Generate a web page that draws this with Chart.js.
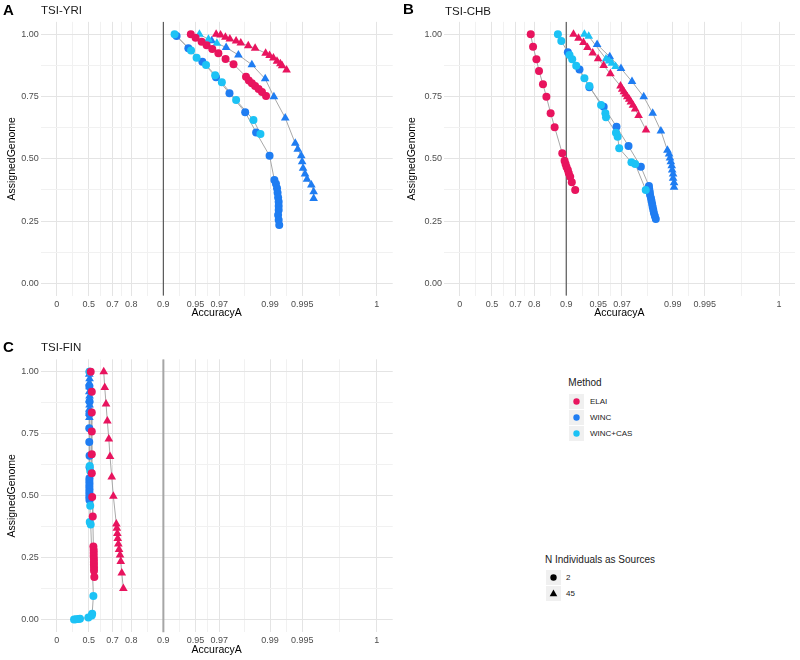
<!DOCTYPE html>
<html>
<head>
<meta charset="utf-8">
<script src="https://cdn.jsdelivr.net/npm/chart.js@4.4.1/dist/chart.umd.min.js"></script>
<style>
  body { margin: 0; width: 800px; height: 660px; background: #fff; position: relative; overflow: hidden;
         font-family: "Liberation Sans", Arial, Helvetica, sans-serif; }
  canvas { position: absolute; }
  .txt { position: absolute; white-space: nowrap; color: #1a1a1a; }
  .key { position: absolute; width: 15px; height: 15px; background: #f0f0f0; }
</style>
</head>
<body>
<canvas id="chartA" width="400" height="320" style="left:0;top:0"></canvas>
<canvas id="chartB" width="400" height="320" style="left:400px;top:0"></canvas>
<canvas id="chartC" width="400" height="340" style="left:0;top:320px"></canvas>
<div id="labels"></div>
<script>
const methods = ["ELAI", "WINC", "WINC+CAS"];
const methodColors = ["#E8145E", "#1F7DF2", "#1CC2F5"];
const sourceCounts = ["2", "45"];
const accuracyTicks = [0, 0.5, 0.7, 0.8, 0.9, 0.95, 0.97, 0.99, 0.995, 1];
const genomeTicks = [0, 0.25, 0.5, 0.75, 1];
const cutoff = 0.9;

// [AccuracyA, AssignedGenome]
// TSI-YRI
const yriElai2 = [[0.9447,1.000],[0.9501,0.986],[0.9562,0.970],[0.9607,0.956],[0.9652,0.941],[0.9695,0.924],[0.9739,0.901],[0.9780,0.880],[0.9832,0.830],[0.9842,0.814],[0.9852,0.803],[0.9862,0.792],[0.9872,0.780],[0.9881,0.768],[0.9891,0.752]];
const yriElai45 = [[0.9680,1.000],[0.9709,0.997],[0.9738,0.988],[0.9762,0.981],[0.9792,0.973],[0.9812,0.965],[0.9840,0.954],[0.9862,0.944],[0.9890,0.924],[0.9899,0.915],[0.9907,0.905],[0.9914,0.892],[0.9920,0.882],[0.9923,0.874],[0.9930,0.857]];
const yriWinc2 = [[0.9248,0.993],[0.9417,0.944],[0.9569,0.890],[0.9679,0.828],[0.9760,0.763],[0.9829,0.687],[0.9865,0.606],[0.9899,0.512],[0.9909,0.415],[0.9912,0.400],[0.9914,0.382],[0.9915,0.364],[0.9916,0.345],[0.9917,0.328],[0.9917,0.310],[0.9917,0.294],[0.9916,0.274],[0.9917,0.254],[0.9918,0.234]];
const yriWinc45 = [[0.9648,0.974],[0.9742,0.947],[0.9802,0.917],[0.9852,0.878],[0.9889,0.821],[0.9908,0.749],[0.9928,0.664],[0.9942,0.562],[0.9945,0.538],[0.9949,0.512],[0.9950,0.488],[0.9951,0.462],[0.9953,0.439],[0.9955,0.418],[0.9959,0.395],[0.9961,0.368],[0.9961,0.341]];
const yriWincCas2 = [[0.9215,1.000],[0.9450,0.935],[0.9512,0.906],[0.9602,0.877],[0.9673,0.836],[0.9717,0.807],[0.9792,0.736],[0.9857,0.656],[0.9877,0.600]];
const yriWincCas45 = [[0.9541,1.000],[0.9622,0.980],[0.9685,0.964]];

// TSI-CHB
const chbElai2 = [[0.7843,1.000],[0.7949,0.950],[0.8093,0.900],[0.8196,0.853],[0.8345,0.799],[0.8463,0.749],[0.8598,0.683],[0.8714,0.627],[0.8910,0.522],[0.8963,0.492],[0.8985,0.479],[0.9006,0.467],[0.9034,0.455],[0.9054,0.442],[0.9082,0.428],[0.9113,0.406],[0.9176,0.375]];
const chbElai45 = [[0.9145,1.000],[0.9233,0.984],[0.9311,0.967],[0.9368,0.947],[0.9436,0.925],[0.9498,0.902],[0.9555,0.875],[0.9615,0.842],[0.9691,0.792],[0.9702,0.779],[0.9713,0.769],[0.9723,0.759],[0.9733,0.749],[0.9744,0.739],[0.9753,0.728],[0.9764,0.715],[0.9775,0.700],[0.9791,0.674],[0.9822,0.616]];
const chbWinc2 = [[0.9034,0.928],[0.9249,0.859],[0.9394,0.787],[0.9555,0.709],[0.9663,0.629],[0.9740,0.551],[0.9801,0.468],[0.9833,0.391],[0.9834,0.379],[0.9836,0.367],[0.9837,0.355],[0.9840,0.343],[0.9842,0.331],[0.9844,0.318],[0.9846,0.306],[0.9848,0.294],[0.9850,0.282],[0.9853,0.270],[0.9856,0.258]];
const chbWinc45 = [[0.9487,0.959],[0.9610,0.910],[0.9694,0.863],[0.9759,0.810],[0.9813,0.749],[0.9846,0.683],[0.9871,0.612],[0.9888,0.534],[0.9892,0.519],[0.9894,0.503],[0.9896,0.488],[0.9898,0.472],[0.9899,0.455],[0.9901,0.439],[0.9901,0.422],[0.9903,0.404],[0.9903,0.386]];
const chbWincCas2 = [[0.8802,1.000],[0.8887,0.973],[0.9068,0.917],[0.9121,0.900],[0.9194,0.874],[0.9325,0.823],[0.9394,0.792],[0.9529,0.716],[0.9571,0.683],[0.9577,0.667],[0.9659,0.605],[0.9671,0.589],[0.9682,0.542],[0.9756,0.486],[0.9775,0.479],[0.9821,0.375]];
const chbWincCas45 = [[0.9325,1.000],[0.9385,0.992],[0.9577,0.901],[0.9604,0.893],[0.9628,0.884],[0.9656,0.871]];

// TSI-FIN
const finElai2 = [[0.520,1.000],[0.531,0.919],[0.531,0.836],[0.531,0.759],[0.531,0.668],[0.531,0.591],[0.535,0.495],[0.541,0.417],[0.547,0.296],[0.550,0.282],[0.550,0.270],[0.550,0.258],[0.552,0.246],[0.552,0.234],[0.552,0.222],[0.553,0.210],[0.553,0.198],[0.556,0.173]];
const finElai45 = [[0.6378,1.000],[0.6455,0.936],[0.6553,0.870],[0.6648,0.801],[0.6754,0.729],[0.6838,0.658],[0.6952,0.576],[0.7056,0.498],[0.7240,0.387],[0.7270,0.369],[0.7299,0.348],[0.7322,0.328],[0.7357,0.306],[0.7397,0.284],[0.7453,0.262],[0.7491,0.236],[0.7545,0.189],[0.7628,0.127]];
const finWinc2 = [[0.508,1.000],[0.506,0.940],[0.508,0.880],[0.506,0.830],[0.505,0.772],[0.505,0.717],[0.508,0.662],[0.508,0.615],[0.507,0.571],[0.506,0.560],[0.507,0.549],[0.506,0.538],[0.507,0.527],[0.506,0.516],[0.507,0.505],[0.506,0.494],[0.507,0.483]];
const finWinc45 = [[0.505,0.990],[0.508,0.972],[0.505,0.955],[0.508,0.939],[0.505,0.919],[0.508,0.902],[0.505,0.886],[0.508,0.866],[0.505,0.849],[0.508,0.832],[0.506,0.816]];
const finWincCas2 = [[0.508,1.000],[0.510,0.620],[0.515,0.600],[0.515,0.460],[0.510,0.395],[0.520,0.385],[0.547,0.097],[0.535,0.025],[0.530,0.018],[0.495,0.010],[0.395,0.005],[0.373,0.004],[0.340,0.003],[0.312,0.002]];

// x axis: -log10(1 - accuracy), 1 is capped at 0.999
function tx(a) { return -Math.log10(Math.max(1 - a, 0.001)); }

const xMajor = accuracyTicks.map(tx);
const xMinor = xMajor.slice(1).map((v, i) => (v + xMajor[i]) / 2);
const xMin = -0.05 * 3, xMax = 3 + 0.05 * 3;
const yMin = -0.05, yMax = 1.05;
const yMinor = genomeTicks.slice(1).map((v, i) => (v + genomeTicks[i]) / 2);

const tickFont = { family: "'Liberation Sans', Arial, sans-serif", size: 9 };
const titleFont = { family: "'Liberation Sans', Arial, sans-serif", size: 10.5 };

function gridColor(ctx) {
  return ctx.tick && ctx.tick.label !== "" ? "#e4e4e4" : "#f1f1f1";
}

function makePanel(id, series, lay, vline) {
  const datasets = [];
  series.forEach((s, i) => {
    const pts = s.data.map(p => ({ x: tx(p[0]), y: p[1] }));
    datasets.push({ data: pts, showLine: true, borderColor: "#a8a8a8", borderWidth: 1, pointRadius: 0, order: 100 });
    datasets.push({
      data: pts, showLine: false, pointStyle: s.shape,
      pointRadius: s.shape === "triangle" ? 5 : 4,
      pointBackgroundColor: methodColors[s.method], pointBorderWidth: 0, order: 50 - i
    });
  });
  datasets.push({
    data: [{ x: tx(cutoff), y: yMin }, { x: tx(cutoff), y: yMax }],
    showLine: true, borderColor: vline.color, borderWidth: vline.width, pointRadius: 0, order: 150
  });

  new Chart(document.getElementById(id), {
    type: "scatter",
    data: { datasets },
    options: {
      responsive: false, animation: false, devicePixelRatio: 1,
      layout: { padding: { left: 0, top: lay.top, right: lay.right, bottom: lay.bottom } },
      plugins: { legend: { display: false }, tooltip: { enabled: false } },
      scales: {
        x: {
          type: "linear", min: xMin, max: xMax,
          afterBuildTicks: s => { s.ticks = xMajor.concat(xMinor).sort((a, b) => a - b).map(v => ({ value: v })); },
          afterFit: s => { s.height = 24; },
          ticks: {
            autoSkip: false, maxRotation: 0, padding: 3, color: "#4d4d4d", font: tickFont,
            callback: v => {
              const i = xMajor.findIndex(m => Math.abs(m - v) < 1e-9);
              return i >= 0 ? String(accuracyTicks[i]) : "";
            }
          },
          grid: { color: gridColor, lineWidth: 1, drawTicks: false },
          border: { display: false },
          title: { display: true, text: "AccuracyA", color: "#000", font: titleFont, padding: { top: 0, bottom: 0 } }
        },
        y: {
          type: "linear", min: yMin, max: yMax,
          afterBuildTicks: s => { s.ticks = genomeTicks.concat(yMinor).sort((a, b) => a - b).map(v => ({ value: v })); },
          afterFit: s => { s.width = lay.yWidth; },
          ticks: {
            autoSkip: false, padding: 2, color: "#4d4d4d", font: tickFont,
            callback: v => genomeTicks.some(g => Math.abs(g - v) < 1e-9) ? v.toFixed(2) : ""
          },
          grid: { color: gridColor, lineWidth: 1, drawTicks: false },
          border: { display: false },
          title: { display: true, text: "AssignedGenome", color: "#000", font: titleFont, padding: { top: 6, bottom: 0 } }
        }
      }
    }
  });
}

makePanel("chartA", [
  { data: yriWinc2, method: 1, shape: "circle" },
  { data: yriWinc45, method: 1, shape: "triangle" },
  { data: yriWincCas2, method: 2, shape: "circle" },
  { data: yriWincCas45, method: 2, shape: "triangle" },
  { data: yriElai2, method: 0, shape: "circle" },
  { data: yriElai45, method: 0, shape: "triangle" }
], { top: 21.85, right: 7.3, bottom: 0.25, yWidth: 40.7 }, { color: "#595959", width: 1.2 });

makePanel("chartB", [
  { data: chbWinc2, method: 1, shape: "circle" },
  { data: chbWinc45, method: 1, shape: "triangle" },
  { data: chbWincCas2, method: 2, shape: "circle" },
  { data: chbWincCas45, method: 2, shape: "triangle" },
  { data: chbElai2, method: 0, shape: "circle" },
  { data: chbElai45, method: 0, shape: "triangle" }
], { top: 21.85, right: 2.2, bottom: 0.25, yWidth: 43.9 }, { color: "#595959", width: 1.2 });

makePanel("chartC", [
  { data: finWinc2, method: 1, shape: "circle" },
  { data: finWinc45, method: 1, shape: "triangle" },
  { data: finWincCas2, method: 2, shape: "circle" },
  { data: finElai2, method: 0, shape: "circle" },
  { data: finElai45, method: 0, shape: "triangle" }
], { top: 39.3, right: 7.3, bottom: 3.6, yWidth: 40.7 }, { color: "#a6a6a6", width: 2 });

// panel tags, panel names and legends as real text
const box = document.getElementById("labels");
function txt(text, x, baseline, size, extra) {
  const d = document.createElement("div");
  d.className = "txt";
  d.textContent = text;
  d.style.left = x + "px";
  d.style.top = (baseline - 0.8465 * size) + "px";
  d.style.fontSize = size + "px";
  d.style.lineHeight = size + "px";
  if (extra) Object.assign(d.style, extra);
  box.appendChild(d);
  return d;
}

txt("A", 3, 15, 15, { fontWeight: "bold", color: "#000" });
txt("TSI-YRI", 41, 15, 11.5);
txt("B", 403, 14, 15, { fontWeight: "bold", color: "#000" });
txt("TSI-CHB", 445, 15.5, 11.5);
txt("C", 3, 351.7, 15, { fontWeight: "bold", color: "#000" });
txt("TSI-FIN", 41, 351.7, 11.5);

txt("Method", 568.3, 386.7, 10);
methods.forEach((m, i) => {
  const top = 394 + i * 16;
  const k = document.createElement("div");
  k.className = "key";
  k.style.left = "569px";
  k.style.top = top + "px";
  k.innerHTML = '<svg width="15" height="15"><circle cx="7.5" cy="7.5" r="3.2" fill="' + methodColors[i] + '"/></svg>';
  box.appendChild(k);
  txt(m, 590, top + 7.5 + 2.9, 8);
});

txt("N Individuals as Sources", 545, 563.3, 10);
sourceCounts.forEach((n, i) => {
  const top = 570 + i * 16;
  const k = document.createElement("div");
  k.className = "key";
  k.style.left = "546px";
  k.style.top = top + "px";
  k.innerHTML = i === 0
    ? '<svg width="15" height="15"><circle cx="7.5" cy="7.5" r="3.2" fill="#000"/></svg>'
    : '<svg width="15" height="15"><polygon points="7.5,3.6 11.3,10.3 3.7,10.3" fill="#000"/></svg>';
  box.appendChild(k);
  txt(n, 566, top + 7.5 + 2.9, 8);
});
</script>
</body>
</html>
